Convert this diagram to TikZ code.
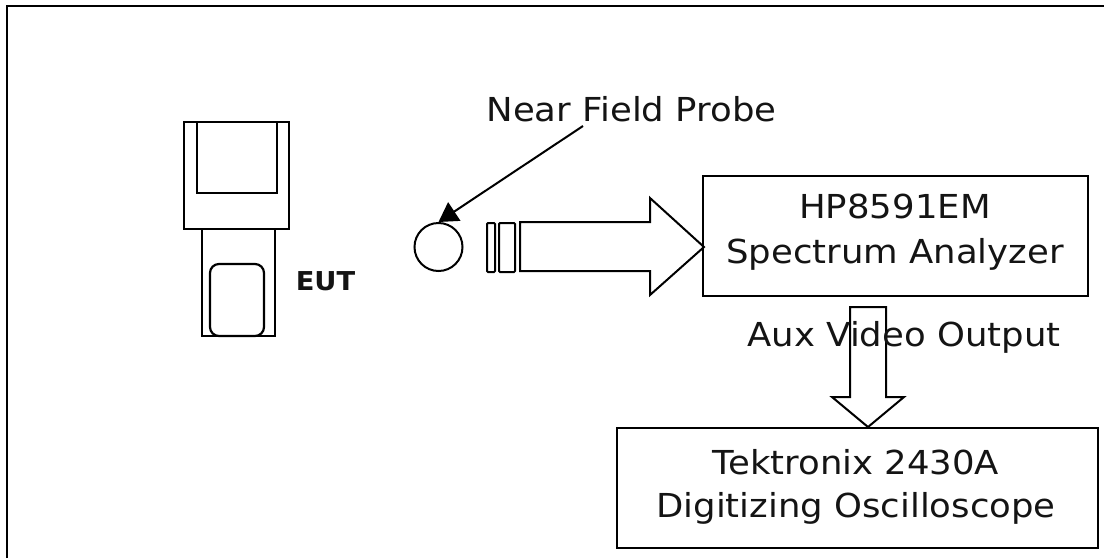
\documentclass[tikz,border=0pt]{standalone}
\usepackage{fontspec}
\setmainfont{DejaVu Sans}
\usetikzlibrary{arrows.meta}
\tikzset{
  x=1pt,y=-1pt,
  ln/.style={draw=black,line width=2pt,line join=miter},
  frameln/.style={draw=black,line width=2.2pt},
  lbl/.style={font=\fontsize{33}{45}\selectfont,align=center,text=black!92,inner sep=0pt,xscale=1.075},
}
\begin{document}
\begin{tikzpicture}
\useasboundingbox (0,0) rectangle (1104,558);
% frame
\coordinate (fbl) at (7,558);
\coordinate (ftl) at (7,6);
\coordinate (ftr) at (1104,6);
\draw[frameln] (fbl) -- (ftl) -- (ftr);
% EUT
\draw[ln] (184,122) rectangle (289,229);
\draw[ln] (197,122) rectangle (277,193);
\draw[ln] (202,229) rectangle (275,336);
\draw[ln,line width=2.2pt,rounded corners=9pt] (210,264) rectangle (264,336);
\node[font=\bfseries\fontsize{26}{26}\selectfont,inner sep=0pt,text=black!92,xscale=1.05] (eut) at (325.5,281.5) {EUT};
% probe
\node[ln,circle,minimum size=48pt,inner sep=0pt] (probe) at (438.5,247) {};
\node[lbl] (nfp) at (631.5,109) {Near Field Probe};
\coordinate (nfpfoot) at (583,126);
\draw[line width=2pt,-{Triangle[length=19pt,width=22pt]}] (nfpfoot) -- (probe.north);
% bands
\draw[ln,rounded corners=1pt] (487,223) rectangle (495,272);
\draw[ln,rounded corners=1pt] (499,223) rectangle (515,272);
% big arrow
\draw[ln] (520,222) -- (650,222) -- (650,198) -- (704,247) -- (650,295) -- (650,271) -- (520,271) -- cycle;
% analyzer
\node[ln,minimum width=385pt,minimum height=120pt,inner sep=0pt,anchor=north west] (hp) at (702,175) {};
\node[lbl] (hpt) at (895,232) {HP8591EM\\Spectrum Analyzer};
% down arrow
\draw[ln] (850,307) -- (886,307) -- (886,397) -- (904,397) -- (868,427) -- (832,397) -- (850,397) -- cycle;
\node[lbl] (aux) at (904,337.5) {Aux Video Output};
% scope
\node[ln,minimum width=481pt,minimum height=120pt,inner sep=0pt,anchor=north west] (tek) at (616,427) {};
\node[lbl,font=\fontsize{33}{43.5}\selectfont] (tekt) at (856,487) {Tektronix 2430A\\Digitizing Oscilloscope};
\end{tikzpicture}
\end{document}
